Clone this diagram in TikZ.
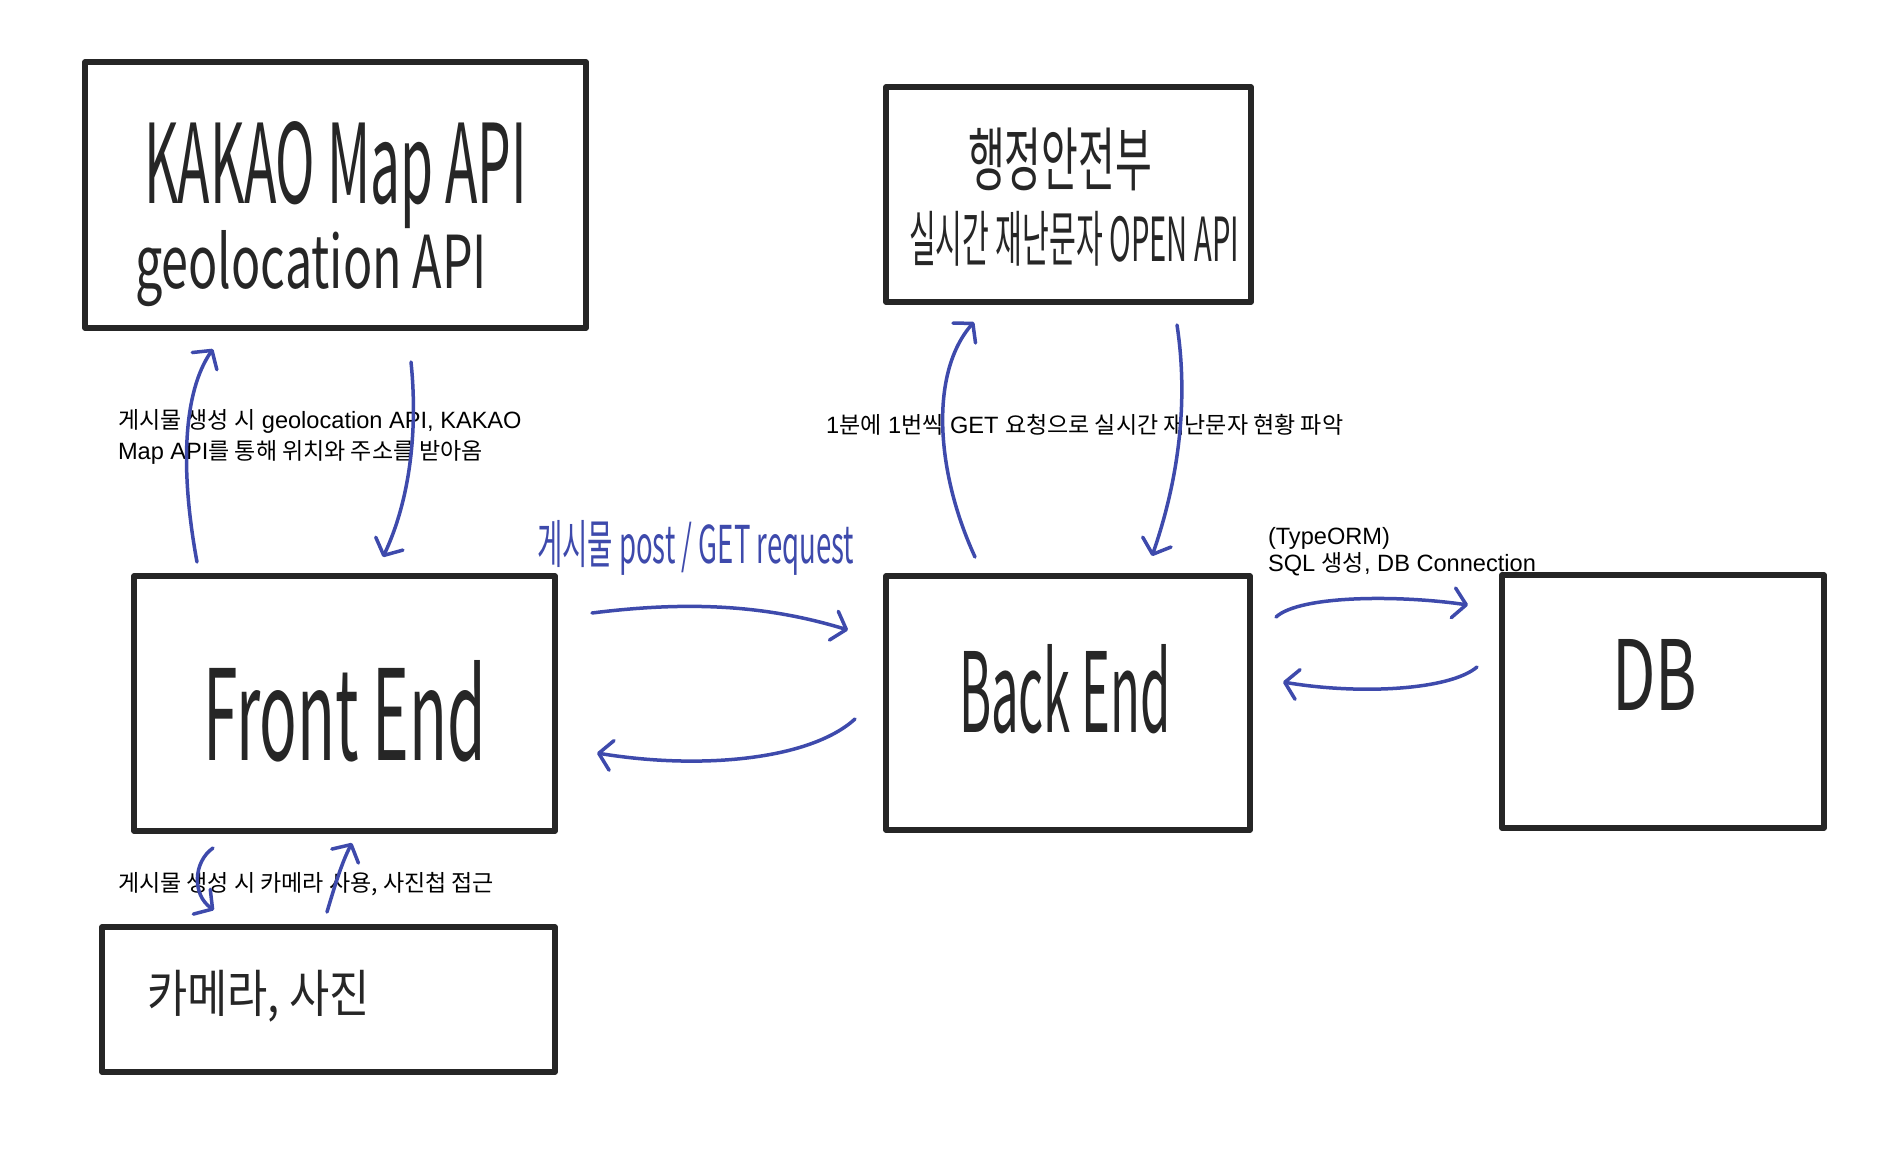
\documentclass[tikz,border=0pt]{standalone}
\usepackage{fontspec}
\setmainfont{Liberation Sans}
\newfontfamily\kr[Scale=0.975]{Noto Sans CJK KR}
\usetikzlibrary{arrows.meta}
\definecolor{pen}{RGB}{62,74,172}
\definecolor{ink}{RGB}{38,38,38}
\newcommand\hwbox[3]{\resizebox{#1pt}{#2pt}{#3}}
\newcommand\hwboxt[3]{\resizebox*{#1pt}{#2pt}{#3}}
\begin{document}
\begin{tikzpicture}[x=1pt,y=-1pt,
  box/.style={draw=ink, line width=5.5pt, rectangle, inner sep=0pt, outer sep=0pt, line join=round},
  hand/.style={inner sep=0pt, outer sep=0pt, text=ink},
  bluehand/.style={inner sep=0pt, outer sep=0pt, text=pen},
  lbl/.style={inner sep=0pt, outer sep=0pt, anchor=base west, font=\fontsize{23.6}{28}\selectfont, text=black},
  conn/.style={draw=pen, line width=3.5pt, line cap=round, -{Straight Barb[length=13pt,width=30pt,round]}},
]
\useasboundingbox[fill=white] (0,0) rectangle (1881,1159);

% boxes
\node[box, minimum width=501pt, minimum height=266pt] (kakao) at (335.5,195) {};
\node[box, minimum width=365pt, minimum height=215pt] (mois) at (1068.5,194.5) {};
\node[box, minimum width=421pt, minimum height=255pt] (fe) at (344.5,703.5) {};
\node[box, minimum width=364pt, minimum height=254pt] (be) at (1068,703) {};
\node[box, minimum width=322pt, minimum height=253pt] (db) at (1663,701.5) {};
\node[box, minimum width=453pt, minimum height=145pt] (cam) at (328.5,999.5) {};

% handwritten box texts
\node[hand, anchor=base west] (kakaoA) at (144,203) {\hwbox{383}{82}{\kr KAKAO Map API}};
\node[hand, anchor=base west] (kakaoB) at (135,288) {\hwbox{352}{58}{\kr geolocation API}};
\node[hand, anchor=north west] (moisA) at (968,128) {\hwboxt{184}{63}{\kr 행정안전부}};
\node[hand, anchor=north west] (moisB) at (909,211) {\hwboxt{330}{55}{\kr 실시간 재난문자 OPEN API}};
\node[hand, anchor=base west] (feT) at (203,760) {\hwbox{283}{100}{\kr Front End}};
\node[hand, anchor=base west] (beT) at (959,732) {\hwbox{212}{88}{\kr Back End}};
\node[hand, anchor=base west] (dbT) at (1612,710) {\hwbox{85}{71}{\kr DB}};
\node[hand, anchor=north west] (camT) at (147,970) {\hwboxt{223}{52}{\kr 카메라, 사진}};
\node[bluehand, anchor=north west] (reqT) at (537,520) {\hwboxt{317}{55}{\kr 게시물 post / GET request}};

% typed labels
\node[lbl] (l1a) at (118,428) {{\kr 게시물 생성 시} geolocation API, KAKAO};
\node[lbl] (l1b) at (118,459) {Map API{\kr 를 통해 위치와 주소를 받아옴}};
\node[lbl] (l2) at (826,433) {1{\kr 분에} 1{\kr 번씩} GET {\kr 요청으로 실시간 재난문자 현황 파악}};
\node[lbl] (l3a) at (1268,544) {(TypeORM)};
\node[lbl] (l3b) at (1268,571) {SQL {\kr 생성}, DB Connection};
\node[lbl] (l4) at (118,891) {\kr 게시물 생성 시 카메라 사용, 사진첩 접근};

% connector end points
\coordinate (a1s) at (197,562);  \coordinate (a1e) at (213,349);
\coordinate (a2s) at (411,362);  \coordinate (a2e) at (383,557);
\coordinate (a3s) at (975,557);  \coordinate (a3e) at (974,322);
\coordinate (a4s) at (1177,325); \coordinate (a4e) at (1152,556);
\coordinate (a5s) at (592,613);  \coordinate (a5e) at (848,630);
\coordinate (a6s) at (855,719);  \coordinate (a6e) at (597,753);
\coordinate (a7s) at (1276,617); \coordinate (a7e) at (1468,605);
\coordinate (a8s) at (1477,667); \coordinate (a8e) at (1283,682);
\coordinate (a9s) at (213,848);  \coordinate (a9e) at (214,910);
\coordinate (a10s) at (327,912); \coordinate (a10e) at (352,843);

% connectors
\draw[conn] (a1s) .. controls (180,470) and (183,392) .. (a1e);
\draw[conn] (a2s) .. controls (418,430) and (410,500) .. (a2e);
\draw[conn] (a3s) .. controls (935,470) and (930,372) .. (a3e);
\draw[conn] (a4s) .. controls (1190,410) and (1175,490) .. (a4e);
\draw[conn] (a5s) .. controls (680,602) and (760,603) .. (a5e);
\draw[conn] (a6s) .. controls (810,760) and (700,770) .. (a6e);
\draw[conn] (a7s) .. controls (1300,595) and (1400,595) .. (a7e);
\draw[conn] (a8s) .. controls (1450,690) and (1360,695) .. (a8e);
\draw[conn] (a9s) .. controls (193,862) and (192,895) .. (a9e);
\draw[conn] (a10s) .. controls (335,885) and (342,862) .. (a10e);
\end{tikzpicture}
\end{document}
